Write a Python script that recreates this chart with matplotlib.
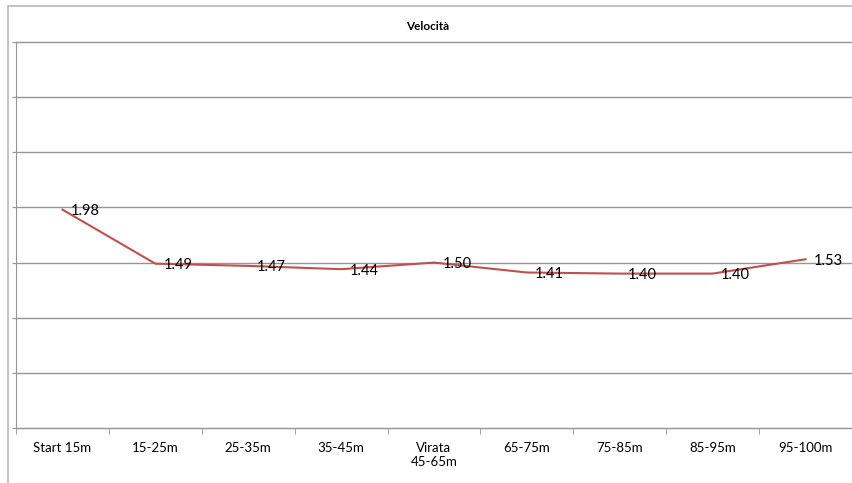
import numpy as np
import matplotlib.pyplot as plt
from matplotlib.patches import Rectangle

plt.rcParams["font.family"] = ["Lato", "DejaVu Sans"]

categories = ["Start 15m", "15-25m", "25-35m", "35-45m", "Virata\n45-65m",
              "65-75m", "75-85m", "85-95m", "95-100m"]
velocita = [1.98, 1.49, 1.47, 1.44, 1.50, 1.41, 1.40, 1.40, 1.53]
y_ticks = [0, 0.5, 1.0, 1.5, 2.0, 2.5, 3.0, 3.5]

W, H = 852, 483
fig = plt.figure(figsize=(W / 100, H / 100), dpi=100)

# outer chart frame (Excel style)
fig.patches.append(Rectangle((8 / W, -0.1), 1.2, 1 - 6 / H + 0.1,
                             transform=fig.transFigure, fill=False,
                             edgecolor="#b8b8b8", lw=1.2))

ax = fig.add_axes([16 / W, 1 - 428 / H, 1 - 16 / W, (428 - 42) / H])

x = np.arange(len(categories))
ax.plot(x, velocita, color="#c0504d", lw=1.5, zorder=3)
for xi, v in zip(x, velocita):
    ax.annotate(f"{v:.2f}", (xi, v), xytext=(6, -1), textcoords="offset points",
                ha="left", va="center", fontsize=10.5, color="black")

ax.set_xlim(-0.5, len(categories) - 0.5)
ax.set_ylim(0, 3.5)
ax.set_yticks(y_ticks)
ax.set_yticklabels([])
ax.yaxis.grid(True, color="#969696", lw=1)
for gl in ax.get_ygridlines():
    gl.set_clip_on(False)
ax.tick_params(axis="y", length=3, color="#969696", direction="out")

ax.set_xticks(x)
ax.set_xticklabels(categories, fontsize=9.5)
ax.tick_params(axis="x", which="major", length=0, pad=10)
ax.set_xticks(np.arange(len(categories) + 1) - 0.5, minor=True)
ax.tick_params(axis="x", which="minor", length=4, color="#969696", direction="out")

for s in ["top", "right"]:
    ax.spines[s].set_visible(False)
ax.spines["left"].set_color("#969696")
ax.spines["bottom"].set_color("#969696")

fig.text(428 / W, 1 - 27 / H, "Velocità", ha="center", va="center",
         fontsize=8.5, fontweight="bold")

fig.savefig("out.png", dpi=100)
